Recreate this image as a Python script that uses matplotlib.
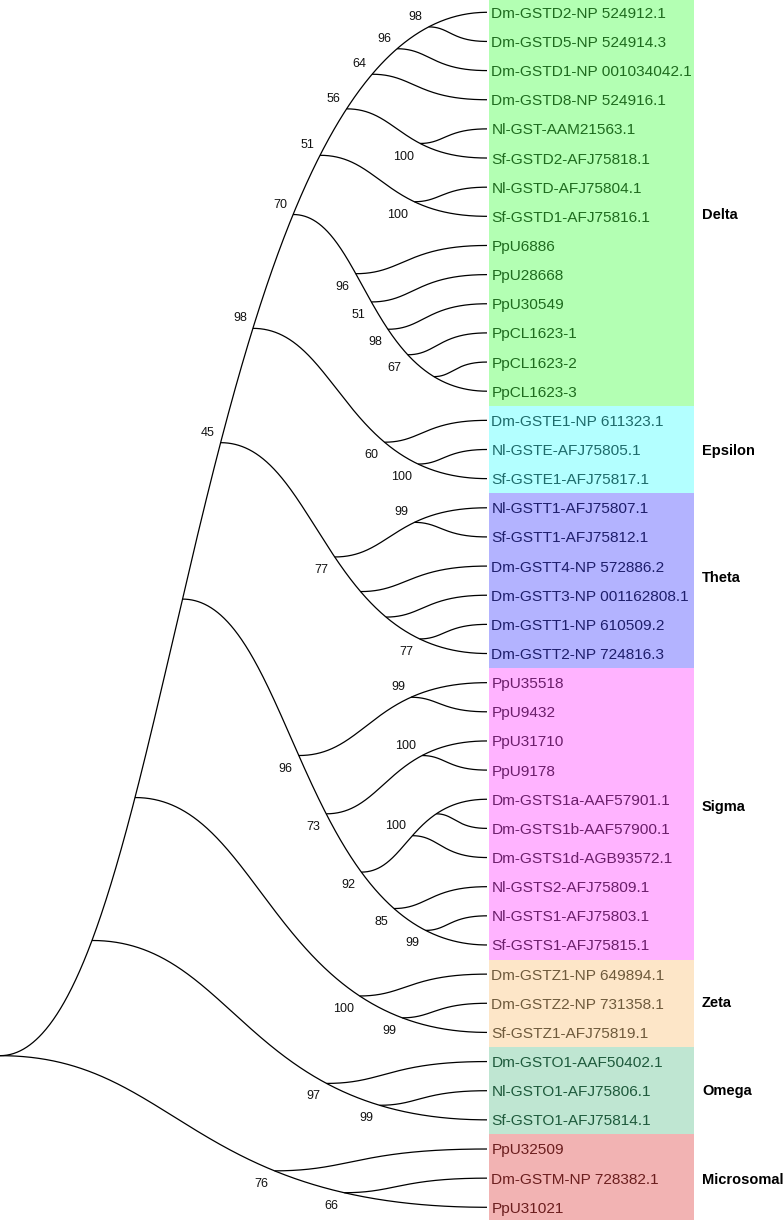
import numpy as np
import matplotlib
matplotlib.use("Agg")
import matplotlib.pyplot as plt
from matplotlib.patches import Rectangle

# ---------------- data ----------------
leaf_names = [
    "Dm-GSTD2-NP 524912.1", "Dm-GSTD5-NP 524914.3", "Dm-GSTD1-NP 001034042.1",
    "Dm-GSTD8-NP 524916.1", "Nl-GST-AAM21563.1", "Sf-GSTD2-AFJ75818.1",
    "Nl-GSTD-AFJ75804.1", "Sf-GSTD1-AFJ75816.1", "PpU6886", "PpU28668",
    "PpU30549", "PpCL1623-1", "PpCL1623-2", "PpCL1623-3",
    "Dm-GSTE1-NP 611323.1", "Nl-GSTE-AFJ75805.1", "Sf-GSTE1-AFJ75817.1",
    "Nl-GSTT1-AFJ75807.1", "Sf-GSTT1-AFJ75812.1", "Dm-GSTT4-NP 572886.2",
    "Dm-GSTT3-NP 001162808.1", "Dm-GSTT1-NP 610509.2", "Dm-GSTT2-NP 724816.3",
    "PpU35518", "PpU9432", "PpU31710", "PpU9178",
    "Dm-GSTS1a-AAF57901.1", "Dm-GSTS1b-AAF57900.1", "Dm-GSTS1d-AGB93572.1",
    "Nl-GSTS2-AFJ75809.1", "Nl-GSTS1-AFJ75803.1", "Sf-GSTS1-AFJ75815.1",
    "Dm-GSTZ1-NP 649894.1", "Dm-GSTZ2-NP 731358.1", "Sf-GSTZ1-AFJ75819.1",
    "Dm-GSTO1-AAF50402.1", "Nl-GSTO1-AFJ75806.1", "Sf-GSTO1-AFJ75814.1",
    "PpU32509", "Dm-GSTM-NP 728382.1", "PpU31021",
]

group_names = ["Delta", "Epsilon", "Theta", "Sigma", "Zeta", "Omega", "Microsomal"]
group_sizes = [14, 3, 6, 10, 3, 3, 3]
group_fill = ["#b3ffb3", "#b3ffff", "#b3b3ff", "#ffb3ff", "#fde6c8", "#bfe6d2", "#f2b3b3"]
group_text = ["#1e6b1e", "#1e6b6b", "#1e1e6b", "#6b1e6b", "#6e5a3c", "#1e5a3c", "#6b1e1e"]

# topology (leaf indices) with bootstrap support as internal labels
delta_nwk = ("((((((0,1)98,2)96,3)64,(4,5)100)56,(6,7)100)51,"
             "(8,(9,(10,(11,(12,13))67)98)51)96)70")
epsilon_nwk = "(14,(15,16)100)60"
theta_nwk = "((17,18)99,(19,(20,(21,22)77)))77"
sigma_nwk = "((23,24)99,((25,26)100,(((27,28),29)100,(30,(31,32)99)85)92)73)96"
zeta_nwk = "(33,(34,35)99)100"
omega_nwk = "(36,(37,38)99)97"
micro_nwk = "(39,(40,41)66)76"
tree_nwk = ("((((((" + delta_nwk + "," + epsilon_nwk + ")98," + theta_nwk + ")45,"
            + sigma_nwk + ")," + zeta_nwk + ")," + omega_nwk + ")," + micro_nwk + ")")

# ---------------- layout / style ----------------
TIP_X = 487.0          # x where branches meet the labels
ROOT_X = 0.0
CTRL1, CTRL2 = 0.36, 0.39   # bezier control-point fractions of the curved branches
LINE_W = 0.9
# vertical nudge of each group name relative to its block centre (in rows)
GROUP_LABEL_SHIFT = [0.42, 0.0, -0.15, -0.3, -0.07, -0.05, 0.0]


def parse(s):
    pos = 0

    def node():
        nonlocal pos
        if s[pos] == "(":
            pos += 1
            kids = [node()]
            while s[pos] == ",":
                pos += 1
                kids.append(node())
            pos += 1  # ')'
            lab = ""
            while pos < len(s) and s[pos] not in ",()":
                lab += s[pos]
                pos += 1
            return {"kids": kids, "label": lab}
        num = ""
        while s[pos] not in ",()":
            num += s[pos]
            pos += 1
        return {"leaf": int(num)}

    return node()


root = parse(tree_nwk)


def set_y(n):
    if "leaf" in n:
        n["y"] = float(n["leaf"])
    else:
        for k in n["kids"]:
            set_y(k)
        n["y"] = 0.5 * (n["kids"][0]["y"] + n["kids"][-1]["y"])


set_y(root)

plt.rcParams["font.family"] = ["Liberation Sans", "DejaVu Sans"]
fig = plt.figure(figsize=(7.84, 12.2), dpi=100)
ax = fig.add_axes([0, 0, 1, 1])
ax.set_xlim(0, 784)
ax.set_ylim(41.436, -0.422)
ax.axis("off")

t = np.linspace(0, 1, 600)
bx = 3 * (1 - t) ** 2 * t * CTRL1 + 3 * (1 - t) * t ** 2 * CTRL2 + t ** 3
by = 3 * t ** 2 - 2 * t ** 3


def chain(sx, sy, n, up):
    path = [n]
    cur = n
    while "kids" in cur:
        cur = cur["kids"][0] if up else cur["kids"][-1]
        path.append(cur)
    ex, ey = TIP_X, cur["y"]
    X = sx + (ex - sx) * bx
    Y = sy + (ey - sy) * by
    ax.plot(X, Y, color="black", lw=LINE_W, solid_capstyle="butt", zorder=3)
    for nd in path[:-1]:
        v = (nd["y"] - sy) / (ey - sy)
        nd["x"] = float(np.interp(v, by, X))
        side = nd["kids"][-1] if up else nd["kids"][0]
        chain(nd["x"], nd["y"], side, not up)
        if nd["label"]:
            if up:
                off = (-4.3, 7.2)
            else:
                off = (-4.3, -9.4)
            ax.annotate(nd["label"], (nd["x"], nd["y"]), xytext=off,
                        textcoords="offset points", ha="right", va="center",
                        fontsize=9, color="#111111", zorder=4)


root["x"] = ROOT_X
chain(ROOT_X, root["y"], root["kids"][0], True)
chain(ROOT_X, root["y"], root["kids"][-1], False)

# coloured group blocks, leaf labels and group names
start = 0
for g, size in enumerate(group_sizes):
    y0 = start - 0.5
    ax.add_patch(Rectangle((489, y0), 694 - 489, size, facecolor=group_fill[g],
                           edgecolor="none", zorder=1))
    for i in range(start, start + size):
        ax.text(491.5, i, leaf_names[i], ha="left", va="center_baseline",
                fontsize=11.1, color=group_text[g], zorder=2)
    ax.text(702, start + (size - 1) / 2 + GROUP_LABEL_SHIFT[g], group_names[g],
            ha="left", va="center_baseline",
            fontsize=10.5, fontweight="bold", color="black", zorder=2)
    start += size

fig.savefig("out.png", dpi=100)
